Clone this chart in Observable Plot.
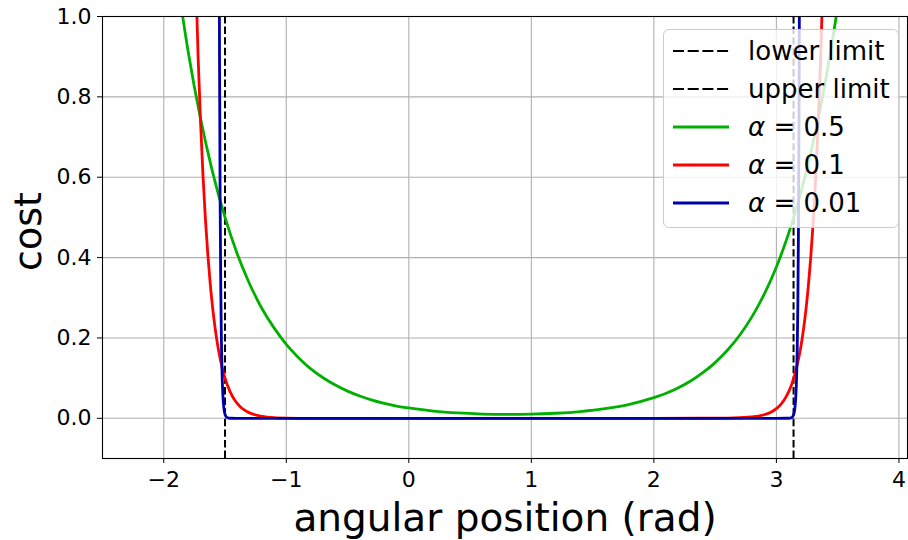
<!DOCTYPE html>
<html>
<head>
<meta charset="utf-8">
<script src="https://cdn.jsdelivr.net/npm/d3@7"></script>
<script src="https://cdn.jsdelivr.net/npm/@observablehq/plot@0.6"></script>
<style>
  html, body { margin: 0; padding: 0; background: white; }
  #wrap { position: relative; width: 908px; height: 540px; font-family: "DejaVu Sans", sans-serif; }
  #legend {
    position: absolute; left: 663px; top: 29px; width: 236px; height: 199px;
    border: 1px solid #cccccc; border-radius: 6px; background: rgba(255,255,255,0.8);
    box-sizing: border-box;
  }
  .row { position: absolute; left: 0; height: 38px; width: 100%; }
  .row svg { position: absolute; left: 8px; top: 0; }
  .row span { position: absolute; left: 84px; top: 0; line-height: 38px; font-size: 26px; color: black; white-space: nowrap; }
</style>
</head>
<body>
<div id="wrap"><div id="chart"></div><div id="legend"></div></div>
<script>
// ---- data ----
const xTicks = [-2, -1, 0, 1, 2, 3, 4];
const yTicks = [0.0, 0.2, 0.4, 0.6, 0.8, 1.0];
const limitNames = ["lower limit", "upper limit"];
const limitValues = [-1.5, 3.14];

const alpha05X = [-1.9, -1.8, -1.7, -1.6, -1.5, -1.4, -1.3, -1.2, -1.1, -1.0, -0.9, -0.8, -0.7, -0.6, -0.5, -0.4, -0.3, -0.2, -0.1, 0.0, 0.2, 0.4, 0.6, 0.8, 1.0, 1.2, 1.4, 1.6, 1.8, 2.0, 2.1, 2.2, 2.3, 2.4, 2.5, 2.6, 2.7, 2.8, 2.9, 3.0, 3.1, 3.2, 3.3, 3.4, 3.5, 3.6];
const alpha05Y = [1.113, 0.911, 0.746, 0.611, 0.500, 0.409, 0.335, 0.274, 0.225, 0.184, 0.151, 0.123, 0.101, 0.0827, 0.0677, 0.0554, 0.0454, 0.0372, 0.0304, 0.0258, 0.0181, 0.0133, 0.0106, 0.0097, 0.0103, 0.0126, 0.0169, 0.0239, 0.0349, 0.0515, 0.0623, 0.0761, 0.0929, 0.1135, 0.1386, 0.1693, 0.2068, 0.2525, 0.3085, 0.3768, 0.4602, 0.5620, 0.6865, 0.8385, 1.024, 1.251];

const alpha01X = [-1.75, -1.72, -1.70, -1.68, -1.66, -1.64, -1.62, -1.60, -1.58, -1.56, -1.54, -1.52, -1.50, -1.46, -1.42, -1.38, -1.34, -1.30, -1.25, -1.2, -1.1, -1.0, -0.8, 0.0, 1.0, 2.0, 2.6, 2.8, 2.9, 2.95, 3.0, 3.04, 3.08, 3.12, 3.14, 3.16, 3.18, 3.20, 3.22, 3.24, 3.26, 3.28, 3.30, 3.32, 3.34, 3.36, 3.38, 3.40];
const alpha01Y = [1.218, 0.9025, 0.739, 0.605, 0.495, 0.406, 0.332, 0.272, 0.2226, 0.182, 0.149, 0.122, 0.100, 0.067, 0.0449, 0.0301, 0.0202, 0.0135, 0.0082, 0.0050, 0.0018, 0.0007, 0.0001, 0.0, 0.0, 0.0, 0.0005, 0.0033, 0.0089, 0.0147, 0.0243, 0.0362, 0.054, 0.0806, 0.0984, 0.120, 0.147, 0.179, 0.219, 0.2675, 0.327, 0.399, 0.487, 0.595, 0.727, 0.888, 1.085, 1.325];

const alpha001X = [-1.55, -1.545, -1.54, -1.535, -1.53, -1.525, -1.52, -1.515, -1.51, -1.505, -1.50, -1.49, -1.48, -1.46, -1.4, 0.0, 1.0, 2.0, 3.0, 3.1, 3.12, 3.13, 3.14, 3.145, 3.15, 3.155, 3.16, 3.165, 3.17, 3.175, 3.18, 3.185, 3.19];
const alpha001Y = [1.484, 0.90, 0.546, 0.331, 0.201, 0.122, 0.0739, 0.0448, 0.0272, 0.0165, 0.010, 0.0037, 0.0014, 0.0002, 0.0, 0.0, 0.0, 0.0, 0.0, 0.0002, 0.0012, 0.0031, 0.0085, 0.014, 0.0232, 0.0382, 0.063, 0.104, 0.171, 0.282, 0.465, 0.767, 1.265];

const seriesNames = ["α = 0.5", "α = 0.1", "α = 0.01"];
const seriesColors = ["#00b000", "#ff0000", "#0000aa"];

// ---- build tables ----
const toRows = (xs, ys) => xs.map((x, i) => ({x, y: ys[i]}));
const series = [toRows(alpha05X, alpha05Y), toRows(alpha01X, alpha01Y), toRows(alpha001X, alpha001Y)];
const minusFmt = d => d < 0 ? "\u2212" + Math.abs(d) : String(d);

const chart = Plot.plot({
  width: 908,
  height: 540,
  marginLeft: 102,
  marginRight: 1,
  marginTop: 16,
  marginBottom: 82,
  x: {domain: [-2.5, 4.07], label: null},
  y: {domain: [-0.1, 1.0], label: null},
  style: {fontFamily: "DejaVu Sans", fontSize: "22px", color: "black", background: "white"},
  marks: [
    Plot.gridX(xTicks, {stroke: "#b0b0b0", strokeOpacity: 1, strokeWidth: 1.1}),
    Plot.gridY(yTicks, {stroke: "#b0b0b0", strokeOpacity: 1, strokeWidth: 1.1}),
    Plot.ruleX(limitValues, {stroke: "black", strokeWidth: 2, strokeDasharray: "7.4,3.2"}),
    ...series.map((rows, i) => Plot.line(rows, {x: "x", y: "y", stroke: seriesColors[i], strokeWidth: 2.8, curve: "monotone-x", clip: true})),
    Plot.frame({stroke: "black", strokeWidth: 1.1}),
    Plot.axisX({ticks: xTicks, tickSize: 5, tickPadding: 8, tickFormat: minusFmt, fontSize: 22, label: null}),
    Plot.axisY({ticks: yTicks, tickSize: 5, tickPadding: 6, tickFormat: d3.format(".1f"), fontSize: 22, label: null}),
    Plot.text(["angular position (rad)"], {frameAnchor: "bottom", textAnchor: "middle", lineAnchor: "bottom", dy: 72, fontSize: 39}),
    Plot.text(["cost"], {frameAnchor: "left", textAnchor: "middle", lineAnchor: "middle", dx: -74, dy: -6, rotate: -90, fontSize: 38})
  ]
});
document.getElementById("chart").appendChild(chart);

// ---- legend ----
const legend = document.getElementById("legend");
const entries = [
  ...limitNames.map(n => ({label: n, color: "black", dash: "11,3.7", w: 2.2})),
  ...seriesNames.map((n, i) => ({label: n, color: seriesColors[i], dash: null, w: 3}))
];
entries.forEach((e, i) => {
  const row = document.createElement("div");
  row.className = "row";
  row.style.top = (2 + i * 38) + "px";
  const dash = e.dash ? `stroke-dasharray="${e.dash}"` : "";
  const parts = e.label.split("α");
  const html = parts.length > 1 ? `<i>α</i>${parts[1]}` : e.label;
  row.innerHTML = `<svg width="58" height="38"><line x1="1" x2="57" y1="19" y2="19" stroke="${e.color}" stroke-width="${e.w}" ${dash}/></svg><span>${html}</span>`;
  legend.appendChild(row);
});
</script>
</body>
</html>
